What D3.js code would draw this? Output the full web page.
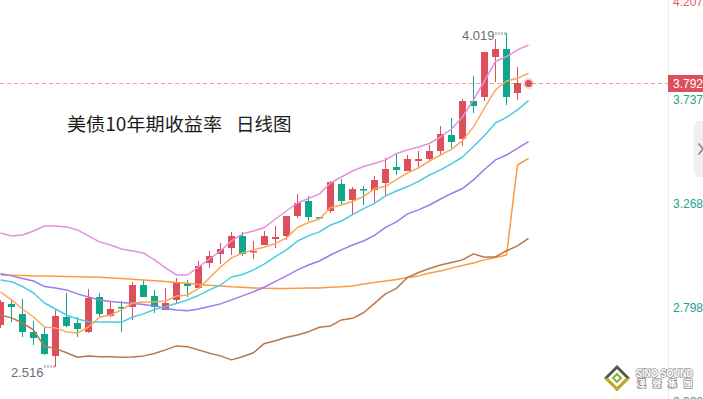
<!DOCTYPE html>
<html>
<head>
<meta charset="utf-8">
<script src="https://cdn.jsdelivr.net/npm/d3@7"></script>
<style>
  html, body { margin: 0; padding: 0; background: #fff; }
  svg { display: block; }
</style>
</head>
<body>
<svg width="703" height="399"></svg>
<script>
// daily OHLC, one value per candle (48 candles)
const open = [2.705, 2.799, 2.754, 2.673, 2.664, 2.565, 2.741, 2.714, 2.673, 2.831, 2.745, 2.786, 2.786, 2.885, 2.835, 2.772,
  2.817, 2.894, 2.871, 2.984, 3.024, 3.051, 3.105, 3.033, 3.065, 3.092, 3.105, 3.195, 3.263, 3.192, 3.218, 3.339,
  3.267, 3.317, 3.312, 3.344, 3.416, 3.398, 3.443, 3.452, 3.488, 3.560, 3.542, 3.713, 3.731, 3.911, 3.947, 3.749];
const high = [2.817, 2.817, 2.822, 2.723, 2.696, 2.772, 2.849, 2.741, 2.867, 2.849, 2.808, 2.813, 2.898, 2.907, 2.862, 2.871,
  2.916, 2.907, 2.993, 3.038, 3.074, 3.123, 3.123, 3.083, 3.128, 3.150, 3.195, 3.294, 3.285, 3.193, 3.353, 3.362,
  3.326, 3.330, 3.375, 3.456, 3.474, 3.470, 3.488, 3.515, 3.600, 3.636, 3.722, 3.825, 3.933, 3.992, 4.019, 3.866];
const low = [2.691, 2.718, 2.651, 2.615, 2.570, 2.516, 2.696, 2.651, 2.669, 2.741, 2.741, 2.673, 2.727, 2.831, 2.759, 2.772,
  2.804, 2.831, 2.871, 2.961, 2.979, 3.020, 3.015, 3.002, 3.065, 3.051, 3.087, 3.186, 3.173, 3.189, 3.209, 3.249,
  3.204, 3.245, 3.258, 3.290, 3.380, 3.398, 3.416, 3.438, 3.474, 3.501, 3.510, 3.659, 3.713, 3.798, 3.695, 3.717];
const close = [2.808, 2.786, 2.673, 2.646, 2.574, 2.745, 2.700, 2.687, 2.826, 2.754, 2.777, 2.781, 2.885, 2.831, 2.786, 2.804,
  2.898, 2.880, 2.970, 3.015, 3.047, 3.105, 3.024, 3.038, 3.105, 3.101, 3.195, 3.254, 3.191, 3.190, 3.348, 3.263,
  3.317, 3.312, 3.357, 3.407, 3.402, 3.452, 3.452, 3.488, 3.564, 3.528, 3.713, 3.690, 3.933, 3.947, 3.731, 3.792];

// indicator lines (49 points, last one sits on the live price slot)
const linePink = [3.119, 3.106, 3.110, 3.128, 3.151, 3.151, 3.146, 3.133, 3.106, 3.079, 3.065, 3.047, 3.038, 3.029, 2.998, 2.962,
  2.930, 2.930, 2.966, 3.002, 3.038, 3.083, 3.115, 3.128, 3.144, 3.182, 3.218, 3.254, 3.274, 3.295, 3.344, 3.371,
  3.398, 3.418, 3.432, 3.448, 3.477, 3.493, 3.506, 3.522, 3.551, 3.587, 3.641, 3.718, 3.803, 3.891, 3.913, 3.943, 3.965];
const lineOrange = [2.854, 2.818, 2.777, 2.741, 2.696, 2.692, 2.674, 2.669, 2.696, 2.741, 2.750, 2.773, 2.804, 2.809, 2.809, 2.813,
  2.836, 2.840, 2.869, 2.917, 2.966, 3.007, 3.029, 3.043, 3.056, 3.072, 3.097, 3.144, 3.166, 3.182, 3.234, 3.245,
  3.261, 3.283, 3.319, 3.328, 3.360, 3.389, 3.412, 3.443, 3.470, 3.495, 3.535, 3.596, 3.682, 3.763, 3.803, 3.815, 3.838];
const lineCyan = [2.908, 2.900, 2.878, 2.849, 2.804, 2.777, 2.750, 2.732, 2.720, 2.719, 2.719, 2.717, 2.741, 2.755, 2.775, 2.788,
  2.802, 2.818, 2.838, 2.863, 2.885, 2.921, 2.932, 2.953, 2.980, 3.013, 3.043, 3.083, 3.106, 3.124, 3.155, 3.173,
  3.202, 3.229, 3.252, 3.286, 3.308, 3.328, 3.351, 3.380, 3.403, 3.430, 3.461, 3.508, 3.558, 3.614, 3.639, 3.673, 3.715];
const linePurple = [2.937, 2.926, 2.914, 2.903, 2.878, 2.872, 2.863, 2.845, 2.831, 2.818, 2.811, 2.806, 2.803, 2.797, 2.791, 2.779,
  2.773, 2.769, 2.777, 2.788, 2.800, 2.818, 2.836, 2.854, 2.876, 2.901, 2.926, 2.953, 2.975, 2.993, 3.020, 3.043,
  3.065, 3.083, 3.108, 3.144, 3.169, 3.205, 3.223, 3.245, 3.272, 3.297, 3.319, 3.358, 3.405, 3.448, 3.470, 3.500, 3.530];
const lineLong = [2.930, 2.929, 2.928, 2.926, 2.926, 2.924, 2.923, 2.922, 2.921, 2.920, 2.917, 2.914, 2.911, 2.908, 2.904, 2.901,
  2.896, 2.893, 2.887, 2.884, 2.881, 2.877, 2.875, 2.872, 2.870, 2.869, 2.869, 2.870, 2.872, 2.872, 2.875, 2.877,
  2.881, 2.890, 2.896, 2.903, 2.910, 2.919, 2.926, 2.939, 2.948, 2.961, 2.973, 2.984, 2.998, 3.009, 3.020, 3.425, 3.455];
const lineBrown = [2.750, 2.737, 2.714, 2.683, 2.608, 2.600, 2.580, 2.560, 2.566, 2.562, 2.562, 2.560, 2.561, 2.566, 2.577, 2.593,
  2.611, 2.607, 2.593, 2.578, 2.566, 2.548, 2.562, 2.580, 2.622, 2.634, 2.650, 2.660, 2.675, 2.695, 2.701, 2.728,
  2.735, 2.760, 2.802, 2.845, 2.870, 2.919, 2.941, 2.959, 2.975, 2.986, 2.998, 3.025, 3.010, 3.012, 3.039, 3.061, 3.095];

const yTicks = [4.207, 3.737, 3.268, 2.798, 2.328];
const lastPrice = 3.792;
const highIdx = 46, lowIdx = 5;

const RED = '#dd4f5c', GREEN = '#10a689', TEAL = '#1aa58b';
const svg = d3.select('svg');

const x = d3.scaleLinear().domain([0, 48]).range([0.5, 528.5]);
const y = d3.scaleLinear().domain([2.516, 4.019]).range([367, 33]);
const axisX = 668;

// right axis separator
svg.append('line')
  .attr('x1', axisX + 0.5).attr('x2', axisX + 0.5)
  .attr('y1', 0).attr('y2', 399)
  .attr('stroke', '#ebebeb');

// title
const title = svg.append('g')
  .style('font-family', '"Noto Sans CJK SC", sans-serif')
  .style('font-size', '18.5px')
  .attr('fill', '#1d1d1d');
title.append('text').attr('x', 67).attr('y', 131)
  .attr('textLength', 155).attr('lengthAdjust', 'spacingAndGlyphs')
  .text('美债10年期收益率');
title.append('text').attr('x', 236).attr('y', 131).text('日线图');

// last price dashed line
svg.append('line')
  .attr('x1', 0).attr('x2', axisX)
  .attr('y1', Math.round(y(lastPrice)) + 0.5).attr('y2', Math.round(y(lastPrice)) + 0.5)
  .attr('stroke', '#f29aa2')
  .attr('stroke-dasharray', '4,3');

// candles
const idx = d3.range(open.length);
const candle = svg.append('g').selectAll('g')
  .data(idx)
  .enter().append('g')
  .attr('fill', i => close[i] >= open[i] ? RED : GREEN)
  .attr('stroke', 'none');

candle.append('rect')
  .attr('x', i => x(i) - 0.5)
  .attr('width', 1)
  .attr('y', i => Math.round(y(high[i])))
  .attr('height', i => Math.max(1, Math.round(y(low[i])) - Math.round(y(high[i]))));

candle.append('rect')
  .attr('x', i => x(i) - 3.5)
  .attr('width', 7)
  .attr('y', i => Math.round(y(Math.max(open[i], close[i]))))
  .attr('height', i => Math.max(1.5, Math.round(y(Math.min(open[i], close[i]))) - Math.round(y(Math.max(open[i], close[i])))));

// indicator lines
const line = d3.line().x((d, i) => x(i)).y(d => y(d));
const series = [
  { values: lineLong, color: '#fd9a3e' },
  { values: lineBrown, color: '#b9774c' },
  { values: linePurple, color: '#9b7ded' },
  { values: lineCyan, color: '#4ccbe2' },
  { values: lineOrange, color: '#fca75e' },
  { values: linePink, color: '#e590d8' }
];
svg.append('g').selectAll('path')
  .data(series)
  .enter().append('path')
  .attr('d', d => line(d.values))
  .attr('fill', 'none')
  .attr('stroke', d => d.color)
  .attr('stroke-width', 1.5)
  .attr('stroke-linejoin', 'round');

// live price dot
svg.append('circle')
  .attr('cx', x(48)).attr('cy', y(lastPrice))
  .attr('r', 5.5).attr('fill', RED).attr('opacity', 0.25);
svg.append('circle')
  .attr('cx', x(48)).attr('cy', y(lastPrice))
  .attr('r', 3.5).attr('fill', RED);

// high / low markers
const marks = svg.append('g')
  .style('font-family', '"Liberation Sans", Arial, sans-serif')
  .style('font-size', '13px')
  .attr('fill', '#6a6e78');
marks.append('text')
  .attr('x', x(highIdx) - 12).attr('y', y(high[highIdx]) + 7)
  .attr('text-anchor', 'end').text(high[highIdx].toFixed(3));
marks.append('line')
  .attr('x1', x(highIdx) - 11).attr('x2', x(highIdx))
  .attr('y1', y(high[highIdx]) + 0.5).attr('y2', y(high[highIdx]) + 0.5)
  .attr('stroke', '#8a8e98').attr('stroke-width', 3).attr('stroke-dasharray', '1,2');
marks.append('text')
  .attr('x', x(lowIdx) - 12).attr('y', y(low[lowIdx]) + 10)
  .attr('text-anchor', 'end').text(low[lowIdx].toFixed(3));
marks.append('line')
  .attr('x1', x(lowIdx) - 11).attr('x2', x(lowIdx))
  .attr('y1', y(low[lowIdx]) - 0.5).attr('y2', y(low[lowIdx]) - 0.5)
  .attr('stroke', '#8a8e98').attr('stroke-width', 3).attr('stroke-dasharray', '1,2');

// right axis labels (edge ones are clipped by the frame, as in the source)
svg.append('g').selectAll('text')
  .data(yTicks)
  .enter().append('text')
  .attr('x', axisX + 5)
  .attr('y', d => Math.min(406, Math.max(6, y(d) + 8)))
  .attr('fill', (d, i) => i === 0 ? '#e05a66' : TEAL)
  .style('font-family', '"Liberation Sans", Arial, sans-serif')
  .style('font-size', '12px')
  .text(d => d.toFixed(3));

// last price tag
const py = Math.round(y(lastPrice));
svg.append('rect')
  .attr('x', axisX).attr('y', py - 8)
  .attr('width', 703 - axisX).attr('height', 17)
  .attr('fill', RED);
svg.append('text')
  .attr('x', axisX + 5).attr('y', py + 5)
  .attr('fill', '#fff')
  .style('font-family', '"Liberation Sans", Arial, sans-serif')
  .style('font-size', '12px')
  .text(lastPrice.toFixed(3));

// collapse tab
svg.append('path')
  .attr('d', 'M703,121 L697,121 L693.5,127 L693.5,171 L697,177 L703,177 Z')
  .attr('fill', '#efeff1');
svg.append('path')
  .attr('d', 'M698.5,143.5 L703,149 L698.5,154.5')
  .attr('fill', 'none').attr('stroke', '#7e828c').attr('stroke-width', 1.5);

// watermark
const wm = svg.append('g');
wm.append('path').attr('d', 'M617,365 L630,378 L617,391 L604,378 Z').attr('fill', '#55544c');
wm.append('path').attr('d', 'M630,378 L617,391 L604,378 L608,378 L617,387 L626,378 Z').attr('fill', '#c4ab1e');
wm.append('path').attr('d', 'M617,369 L626,378 L617,387 L608,378 Z').attr('fill', '#fff');
wm.append('path').attr('d', 'M617,372.5 L622.5,378 L617,383.5 L611.5,378 Z').attr('fill', '#8bb33a');
wm.append('path').attr('d', 'M617,375.5 L619.5,378 L617,380.5 L614.5,378 Z').attr('fill', '#fff');
wm.append('text')
  .attr('x', 636).attr('y', 376.5)
  .attr('textLength', 57).attr('lengthAdjust', 'spacingAndGlyphs')
  .attr('fill', '#fff').attr('stroke', '#9a9a9a').attr('stroke-width', 1.6)
  .attr('paint-order', 'stroke')
  .style('font-family', '"Liberation Sans", Arial, sans-serif')
  .style('font-size', '10px').style('font-weight', 'bold')
  .text('SINO SOUND');
wm.selectAll('text.cn')
  .data(['漢', '聲', '集', '團'])
  .enter().append('text')
  .attr('class', 'cn')
  .attr('x', (d, i) => 637 + i * 15.5).attr('y', 387)
  .attr('fill', '#fff').attr('stroke', '#8a8a8a').attr('stroke-width', 1.4)
  .attr('paint-order', 'stroke')
  .style('font-family', '"Noto Sans CJK TC", sans-serif')
  .style('font-size', '9px').style('font-weight', 'bold')
  .text(d => d);
</script>
</body>
</html>
